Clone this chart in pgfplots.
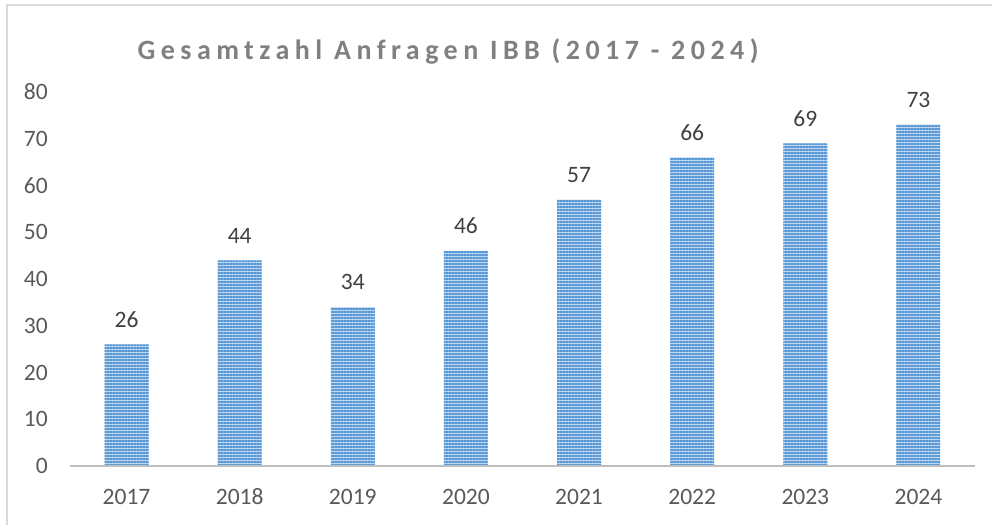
\documentclass[border=0pt]{standalone}
\usepackage{fontspec}
\setmainfont{Carlito}
\newfontfamily\titlefont[LetterSpace=19.5]{Carlito}
\usepackage{pgfplots}
\pgfplotsset{compat=1.18}
\usetikzlibrary{patterns.meta}
\definecolor{barlight}{RGB}{189,215,240}
\definecolor{bardark}{RGB}{86,150,212}
\definecolor{framegray}{RGB}{217,217,217}
\definecolor{axisgray}{RGB}{191,191,191}
\definecolor{tickgray}{RGB}{89,89,89}
\definecolor{labelgray}{RGB}{64,64,64}
\definecolor{titlegray}{RGB}{128,128,128}
\begin{document}
\begin{tikzpicture}[x=1bp,y=1bp]
\useasboundingbox (0,0) rectangle (992,525);
\draw[color=framegray, line width=1.5bp] (7,-5) -- (7,520) -- (1000,520);
\node[anchor=base, inner sep=0pt, text=titlegray, font=\fontsize{28bp}{32bp}\selectfont\titlefont\bfseries] at (448,465) {Gesamtzahl Anfragen IBB (2017 - 2024)};
\begin{axis}[
  at={(70bp,59bp)}, anchor=south west,
  scale only axis, width=905bp, height=374bp,
  xmin=-0.5, xmax=7.5, ymin=0, ymax=80,
  xtick={0,1,2,3,4,5,6,7},
  xticklabels={2017,2018,2019,2020,2021,2022,2023,2024},
  ytick={0,10,20,30,40,50,60,70,80},
  /pgf/number format/assume math mode=true,
  axis line style={draw=none},
  tick style={draw=none},
  major tick length=0pt,
  ticklabel style={font=\fontsize{23.5bp}{28bp}\selectfont, text=tickgray, inner sep=0pt},
  xticklabel style={anchor=north, yshift=-23bp, text height=15bp, text depth=0pt},
  yticklabel style={anchor=east, xshift=-22bp},
  clip=false,
  ybar, bar width=44bp,
  nodes near coords,
  every node near coord/.append style={anchor=south, inner sep=0pt, yshift=17bp, font=\fontsize{23.5bp}{28bp}\selectfont, text=labelgray},
]
\addplot[fill=barlight, draw=none, postaction={pattern={Lines[angle=0,distance=3bp,line width=1.6bp]}, pattern color=bardark}]
  coordinates {(0,26) (1,44) (2,34) (3,46) (4,57) (5,66) (6,69) (7,73)};
\draw[axisgray, line width=2bp] (axis cs:-0.5,0) -- (axis cs:7.5,0);
\end{axis}
\end{tikzpicture}
\end{document}
